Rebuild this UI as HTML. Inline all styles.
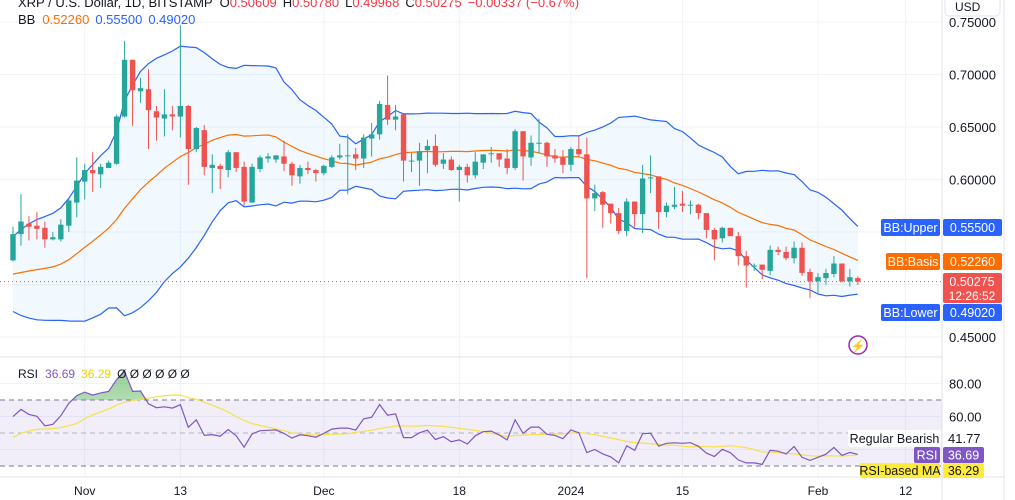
<!DOCTYPE html>
<html><head><meta charset="utf-8"><style>
html,body{margin:0;padding:0;background:#fff;}
svg{display:block;font-family:"Liberation Sans",sans-serif;}
</style></head><body>
<svg id="chart" width="1015" height="500" viewBox="0 0 1015 500">
<g id="grid"></g>
<g id="bb"></g>
<g id="candles"></g>
<g id="rsi"></g>
<g id="axes"></g>
<text x="18" y="7" font-size="13" fill="#131722">XRP / U.S. Dollar, 1D, BITSTAMP<tspan dx="7">O</tspan><tspan fill="#f23645">0.50609</tspan><tspan dx="6">H</tspan><tspan fill="#f23645">0.50780</tspan><tspan dx="6">L</tspan><tspan fill="#f23645">0.49968</tspan><tspan dx="6">C</tspan><tspan fill="#f23645">0.50275</tspan><tspan dx="6" fill="#f23645">−0.00337 (−0.67%)</tspan></text>
<text x="18" y="24" font-size="13" fill="#131722">BB<tspan dx="7" fill="#ff6d00">0.52260</tspan><tspan dx="6" fill="#2962ff">0.55500</tspan><tspan dx="6" fill="#2962ff">0.49020</tspan></text>
<text x="18" y="378" font-size="12" fill="#131722">RSI<tspan dx="7" fill="#7e57c2">36.69</tspan><tspan dx="6" fill="#f5d000">36.29</tspan><tspan dx="6" fill="#131722">Ø  Ø  Ø  Ø  Ø  Ø</tspan></text>
</svg>
<script>
const NS="http://www.w3.org/2000/svg";
const historyCloses=[0.530,0.525,0.528,0.520,0.515,0.505,0.495,0.485,0.490,0.487,0.492,0.488,0.495,0.500,0.505,0.510,0.525,0.530,0.525];
const opens=[0.523,0.548,0.558,0.556,0.554,0.543,0.543,0.556,0.578,0.598,0.609,0.605,0.611,0.615,0.660,0.714,0.684,0.686,0.665,0.658,0.662,0.660,0.670,0.629,0.647,0.611,0.613,0.609,
0.626,0.612,0.578,0.610,0.620,0.619,0.622,0.615,0.603,0.611,0.609,0.606,0.612,0.621,0.623,0.624,0.620,0.639,0.643,0.671,0.657,0.662,0.618,0.618,0.628,0.632,0.615,
0.619,0.609,0.612,0.604,0.616,0.625,0.625,0.620,0.611,0.646,0.621,0.634,0.635,0.623,0.621,0.614,0.629,0.624,0.582,0.588,0.577,0.568,0.551,0.579,0.567,0.601,0.603,0.569,
0.574,0.577,0.576,0.576,0.568,0.552,0.544,0.554,0.546,0.527,0.518,0.519,0.513,0.533,0.531,0.525,0.535,0.512,0.503,0.506,0.510,0.520,0.503,0.50609];
const closes=[0.548,0.560,0.555,0.553,0.543,0.545,0.557,0.580,0.599,0.609,0.606,0.612,0.616,0.660,0.714,0.685,0.687,0.666,0.659,0.662,0.660,0.670,0.629,0.649,0.612,0.614,0.610,0.626,
0.611,0.579,0.612,0.621,0.622,0.623,0.615,0.604,0.611,0.609,0.606,0.613,0.621,0.623,0.623,0.620,0.640,0.643,0.672,0.657,0.660,0.618,0.618,0.627,0.632,0.614,0.619,
0.609,0.612,0.604,0.617,0.624,0.625,0.619,0.611,0.646,0.622,0.635,0.635,0.622,0.620,0.614,0.629,0.624,0.582,0.587,0.576,0.568,0.551,0.579,0.567,0.601,0.602,0.569,0.575,
0.576,0.575,0.576,0.568,0.552,0.543,0.554,0.546,0.527,0.518,0.518,0.514,0.533,0.531,0.525,0.535,0.511,0.503,0.507,0.511,0.520,0.503,0.507,0.50275];
const highs=[0.555,0.586,0.565,0.569,0.560,0.550,0.562,0.582,0.621,0.615,0.626,0.615,0.618,0.662,0.732,0.714,0.697,0.705,0.670,0.686,0.670,0.747,0.671,0.650,0.652,0.624,0.615,0.628,
0.626,0.617,0.615,0.623,0.625,0.623,0.637,0.617,0.614,0.617,0.610,0.614,0.623,0.634,0.643,0.630,0.643,0.654,0.675,0.699,0.671,0.662,0.625,0.635,0.638,0.643,0.625,
0.622,0.614,0.615,0.626,0.624,0.631,0.625,0.629,0.648,0.646,0.642,0.658,0.636,0.629,0.628,0.631,0.641,0.640,0.595,0.589,0.577,0.573,0.582,0.579,0.614,0.623,0.603,0.578,
0.593,0.589,0.580,0.577,0.568,0.554,0.555,0.554,0.550,0.532,0.520,0.519,0.537,0.536,0.536,0.541,0.540,0.515,0.511,0.515,0.527,0.520,0.515,0.5078];
const lows=[0.522,0.537,0.542,0.543,0.535,0.542,0.541,0.550,0.564,0.581,0.588,0.592,0.611,0.614,0.659,0.651,0.673,0.629,0.637,0.641,0.647,0.640,0.595,0.626,0.604,0.587,0.591,0.602,
0.607,0.575,0.578,0.607,0.616,0.616,0.608,0.594,0.596,0.605,0.598,0.604,0.611,0.619,0.586,0.609,0.611,0.622,0.638,0.652,0.647,0.598,0.607,0.594,0.606,0.612,0.610,
0.608,0.579,0.597,0.601,0.610,0.616,0.612,0.605,0.609,0.599,0.613,0.625,0.612,0.616,0.606,0.608,0.622,0.506,0.570,0.554,0.558,0.548,0.546,0.554,0.549,0.587,0.553,0.564,
0.572,0.569,0.567,0.562,0.544,0.523,0.540,0.546,0.518,0.497,0.513,0.505,0.509,0.528,0.523,0.520,0.508,0.487,0.492,0.500,0.507,0.502,0.498,0.49968];
const priceTicks=[0.45,0.50,0.55,0.60,0.65,0.70,0.75];
const rsiTicks=[80,60];
const dateLabels=["Nov","13","Dec","18","2024","15","Feb","12"];
const dateIndex=[9,21,39,56,70,84,101,112]; // candle index (Oct 23 = 0)

const xOf=i=>13+i*7.97;
const yP=p=>337-(p-0.45)*1050;
const yR=r=>433-(r-50)*1.65;
function mk(tag,attrs,parent){const e=document.createElementNS(NS,tag);for(const k in attrs)e.setAttribute(k,attrs[k]);parent.appendChild(e);return e;}
const G=id=>document.getElementById(id);

// grid
const grid=G("grid");
priceTicks.forEach(p=>{const l=mk("line",{x1:0,x2:942,y1:yP(p),y2:yP(p),stroke:"#f0f3fa"},grid);

});
[80,60,40].forEach(r=>{const l=mk("line",{x1:0,x2:942,y1:yR(r),y2:yR(r),stroke:"#f0f3fa"},grid);

});
dateIndex.forEach(i=>{const l=mk("line",{x1:xOf(i),x2:xOf(i),y1:0,y2:477,stroke:"#f0f3fa"},grid);

});

// BB
const all=historyCloses.concat(closes),H=historyCloses.length;
const up=[],mid=[],lo=[];
for(let i=0;i<closes.length;i++){const w=all.slice(i+H-19,i+H+1);const m=w.reduce((a,b)=>a+b,0)/w.length;
const sd=Math.sqrt(w.reduce((a,b)=>a+(b-m)*(b-m),0)/w.length);mid.push(m);up.push(m+2*sd);lo.push(m-2*sd);}
const bb=G("bb");
const pts=a=>a.map((v,i)=>xOf(i).toFixed(1)+","+yP(v).toFixed(1));
const fill=mk("polygon",{points:pts(up).concat(pts(lo).reverse()).join(" "),fill:"rgba(33,150,243,0.06)"},bb);


[[up,"#2962ff","bb-upper"],[mid,"#ff6d00","bb-basis"],[lo,"#2962ff","bb-lower"]].forEach(([a,c,n])=>{
const l=mk("polyline",{points:pts(a).join(" "),fill:"none",stroke:c,"stroke-width":1.2},bb);

});

// candles
const cg=G("candles");
closes.forEach((c,i)=>{const o=opens[i],col=c>=o?"#26a69a":"#ef5350",x=xOf(i);
const g=mk("g",{},cg);


mk("line",{x1:x,x2:x,y1:yP(highs[i]),y2:yP(lows[i]),stroke:col,"stroke-width":1},g);
const t=Math.min(yP(o),yP(c)),h=Math.max(1,Math.abs(yP(o)-yP(c)));
mk("rect",{x:x-2.7,y:t,width:5.4,height:h,fill:col},g);});
// last price line
const lp=mk("line",{x1:0,x2:942,y1:yP(closes[closes.length-1]),y2:yP(closes[closes.length-1]),stroke:"#ef5350","stroke-dasharray":"1,3"},cg);



// RSI
const rsiVals=[];let ag=0,al=0;
for(let i=1;i<all.length;i++){const d=all[i]-all[i-1],g=Math.max(d,0),l=Math.max(-d,0);
if(i<=14){ag+=g/14;al+=l/14;}else{ag=(ag*13+g)/14;al=(al*13+l)/14;}
if(i>=14)rsiVals.push({idx:i-H,v:al===0?100:100-100/(1+ag/al)});}
const rs=G("rsi");
const band=mk("rect",{x:0,y:yR(70),width:942,height:yR(30)-yR(70),fill:"rgba(126,87,194,0.1)"},rs);


[70,50,30].forEach(r=>{const l=mk("line",{x1:0,x2:942,y1:yR(r),y2:yR(r),stroke:r===50?"#b2b5be":"#787b86","stroke-dasharray":"5,4"},rs);

});
const vis=rsiVals.filter(o=>o.idx>=0);
const rp=vis.map(o=>xOf(o.idx).toFixed(1)+","+yR(o.v).toFixed(1));
const defs=mk("defs",{},rs);
const cp=mk("clipPath",{id:"ob"},defs);mk("rect",{x:0,y:0,width:942,height:yR(70)},cp);
const lg=mk("linearGradient",{id:"gg",x1:0,y1:0,x2:0,y2:1},defs);
mk("stop",{offset:0,"stop-color":"rgba(76,175,80,0.6)"},lg);mk("stop",{offset:1,"stop-color":"rgba(76,175,80,0.05)"},lg);
const ob=mk("polygon",{points:[xOf(vis[0].idx)+","+yR(70)].concat(rp,[xOf(vis[vis.length-1].idx)+","+yR(70)]).join(" "),fill:"url(#gg)","clip-path":"url(#ob)"},rs);


const ma=[];
rsiVals.forEach((o,k)=>{if(o.idx<0)return;const w=rsiVals.slice(Math.max(0,k-13),k+1);ma.push(xOf(o.idx).toFixed(1)+","+yR(w.reduce((a,b)=>a+b.v,0)/w.length).toFixed(1));});
const mal=mk("polyline",{points:ma.join(" "),fill:"none",stroke:"#f7e04b","stroke-width":1.2},rs);


const rl=mk("polyline",{points:rp.join(" "),fill:"none",stroke:"#7e57c2","stroke-width":1.2},rs);



// axes
const ax=G("axes");
mk("line",{x1:0,x2:942,y1:357,y2:357,stroke:"#e0e3eb"},ax);
mk("line",{x1:0,x2:1004,y1:477,y2:477,stroke:"#e0e3eb"},ax);
mk("line",{x1:942,x2:942,y1:0,y2:500,stroke:"#e0e3eb"},ax);
mk("line",{x1:1004,x2:1004,y1:0,y2:500,stroke:"#e0e3eb"},ax);
function txt(x,y,s,attrs,name){const t=mk("text",Object.assign({x:x,y:y,"font-size":12,fill:"#131722"},attrs||{}),ax);t.textContent=s;

return t;}
priceTicks.forEach(p=>{if(p===0.50||p===0.55)return;txt(949,yP(p)+5,p.toFixed(5),{"font-size":13},"price-tick");});
rsiTicks.forEach(r=>txt(949,yR(r)+5,r.toFixed(2),{"font-size":13},"rsi-tick"));
dateLabels.forEach((s,k)=>txt(xOf(dateIndex[k]),495,s,{"text-anchor":"middle","font-size":12},"date-tick"));
const usd=mk("rect",{x:945,y:-4,width:55,height:20,rx:4,fill:"#fff",stroke:"#e0e3eb"},ax);


txt(955,11,"USD",{"font-size":12},"currency-label");
function tag(x,w,y,h,bg,s,fg,name,anchor){const r=mk("rect",{x:x,y:y,width:w,height:h,rx:2,fill:bg},ax);


txt(x+w/2,y+h/2+4.5,s,{fill:fg,"text-anchor":"middle","font-size":12.5},name);}
tag(881,59,219,17,"#2962ff","BB:Upper","#fff","bb-upper-tag");
tag(943,59,219,17,"#2962ff","0.55500","#fff","bb-upper-value");
tag(886,54,253,17,"#ff6d00","BB:Basis","#fff","bb-basis-tag");
tag(943,59,253,17,"#ff6d00","0.52260","#fff","bb-basis-value");
const pr=mk("rect",{x:943,y:273,width:59,height:30,rx:2,fill:"#ef5350"},ax);


txt(972,286,"0.50275",{fill:"#fff","text-anchor":"middle","font-size":12.5},"last-price-value");
txt(972,300,"12:26:52",{fill:"#fff","text-anchor":"middle","font-size":12},"countdown");
tag(881,59,304,17,"#2962ff","BB:Lower","#fff","bb-lower-tag");
tag(943,59,304,17,"#2962ff","0.49020","#fff","bb-lower-value");
tag(848,93,430,17,"#ffffff","Regular Bearish","#131722","divergence-label");
txt(948,443,"41.77",{"font-size":13},"divergence-value");
tag(914,26,447,16,"#7e57c2","RSI","#fff","rsi-tag");
tag(943,41,447,16,"#7e57c2","36.69","#fff","rsi-value");
tag(860,80,463,15,"#ffeb3b","RSI-based MA","#131722","rsi-ma-tag");
tag(943,41,463,15,"#ffeb3b","36.29","#131722","rsi-ma-value");
const ic=mk("circle",{cx:858,cy:345,r:9,fill:"#fff",stroke:"#9c27b0","stroke-width":1.5},ax);


txt(858,350,"⚡",{"text-anchor":"middle",fill:"#9c27b0","font-size":12},"alert-glyph");
</script>
</body></html>
